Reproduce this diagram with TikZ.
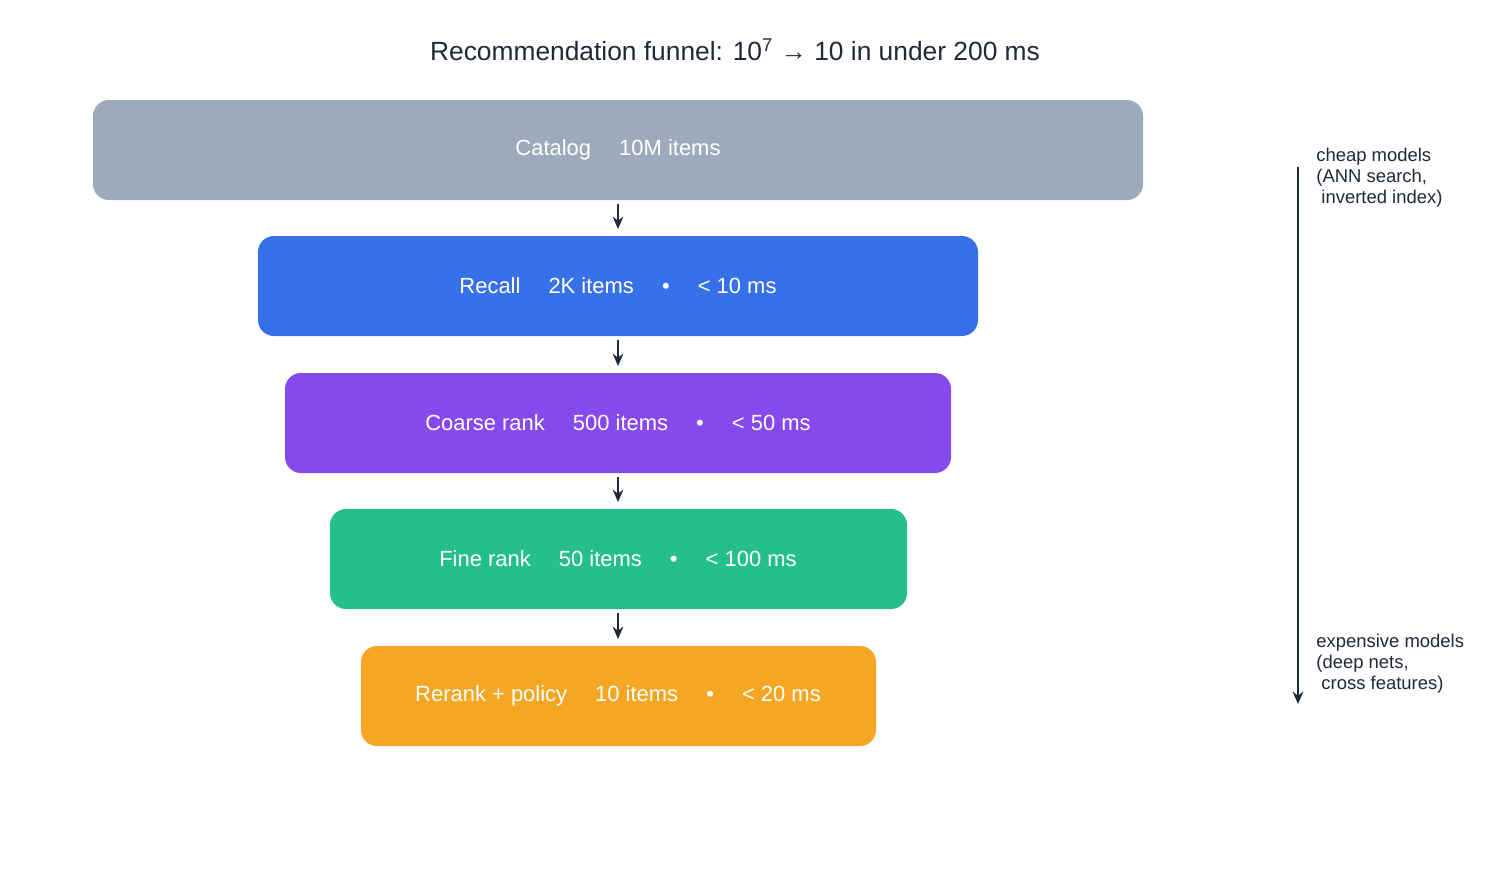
\documentclass[tikz,border=0pt]{standalone}
\usepackage{fontspec}
\setmainfont{Liberation Sans}
\usetikzlibrary{arrows.meta}
\definecolor{ink}{HTML}{1F2937}
\definecolor{cgray}{HTML}{9CAABC}
\definecolor{cblue}{HTML}{3671EA}
\definecolor{cpurp}{HTML}{8549EE}
\definecolor{cgreen}{HTML}{24BF8B}
\definecolor{corange}{HTML}{F5A623}
\begin{document}
\begin{tikzpicture}[x=0.02cm,y=-0.02cm,
  stage/.style={rounded corners=0.32cm,inner sep=0,text=white,font=\fontsize{12.5}{14}\selectfont},
  flow/.style={-{Stealth[length=7pt,width=6pt]},line width=1.6pt,draw=ink},
  side/.style={anchor=north west,align=left,text=ink,font=\fontsize{10.5}{12}\selectfont,inner sep=0}]
\useasboundingbox (0,0) rectangle (1505,870);
\node[text=ink,font=\fontsize{15}{18}\selectfont] (title) at (735,50) {Recommendation funnel: 10\textsuperscript{7} → 10 in under 200 ms};
\fill[cgray,rounded corners=0.32cm] (93,100) rectangle (1143,200);
\node[stage] (s1) at (618,150) {Catalog\quad\ 10M items};
\fill[cblue,rounded corners=0.32cm] (258,236) rectangle (978,336);
\node[stage] (s2) at (618,286) {Recall\quad\ 2K items\quad\ •\quad\ < 10 ms};
\fill[cpurp,rounded corners=0.32cm] (285,373) rectangle (951,473);
\node[stage] (s3) at (618,423) {Coarse rank\quad\ 500 items\quad\ •\quad\ < 50 ms};
\fill[cgreen,rounded corners=0.32cm] (330,509) rectangle (907,609);
\node[stage] (s4) at (618,559) {Fine rank\quad\ 50 items\quad\ •\quad\ < 100 ms};
\fill[corange,rounded corners=0.32cm] (361,646) rectangle (876,746);
\node[stage] (s5) at (618,696) {Rerank + policy\quad\ 10 items\quad\ •\quad\ < 20 ms};
\coordinate (a1) at (618,204); \coordinate (b1) at (618,229);
\coordinate (a2) at (618,340); \coordinate (b2) at (618,366);
\coordinate (a3) at (618,477); \coordinate (b3) at (618,502);
\coordinate (a4) at (618,613); \coordinate (b4) at (618,639);
\draw[flow] (a1) -- (b1);
\draw[flow] (a2) -- (b2);
\draw[flow] (a3) -- (b3);
\draw[flow] (a4) -- (b4);
\coordinate (top) at (1298,167); \coordinate (bot) at (1298,704);
\draw[flow] (top) -- (bot);
\node[side] (cheap) at (1316,148) {cheap models\\(ANN search,\\\ inverted index)};
\node[side] (exp) at (1316,634) {expensive models\\(deep nets,\\\ cross features)};
\end{tikzpicture}
\end{document}
